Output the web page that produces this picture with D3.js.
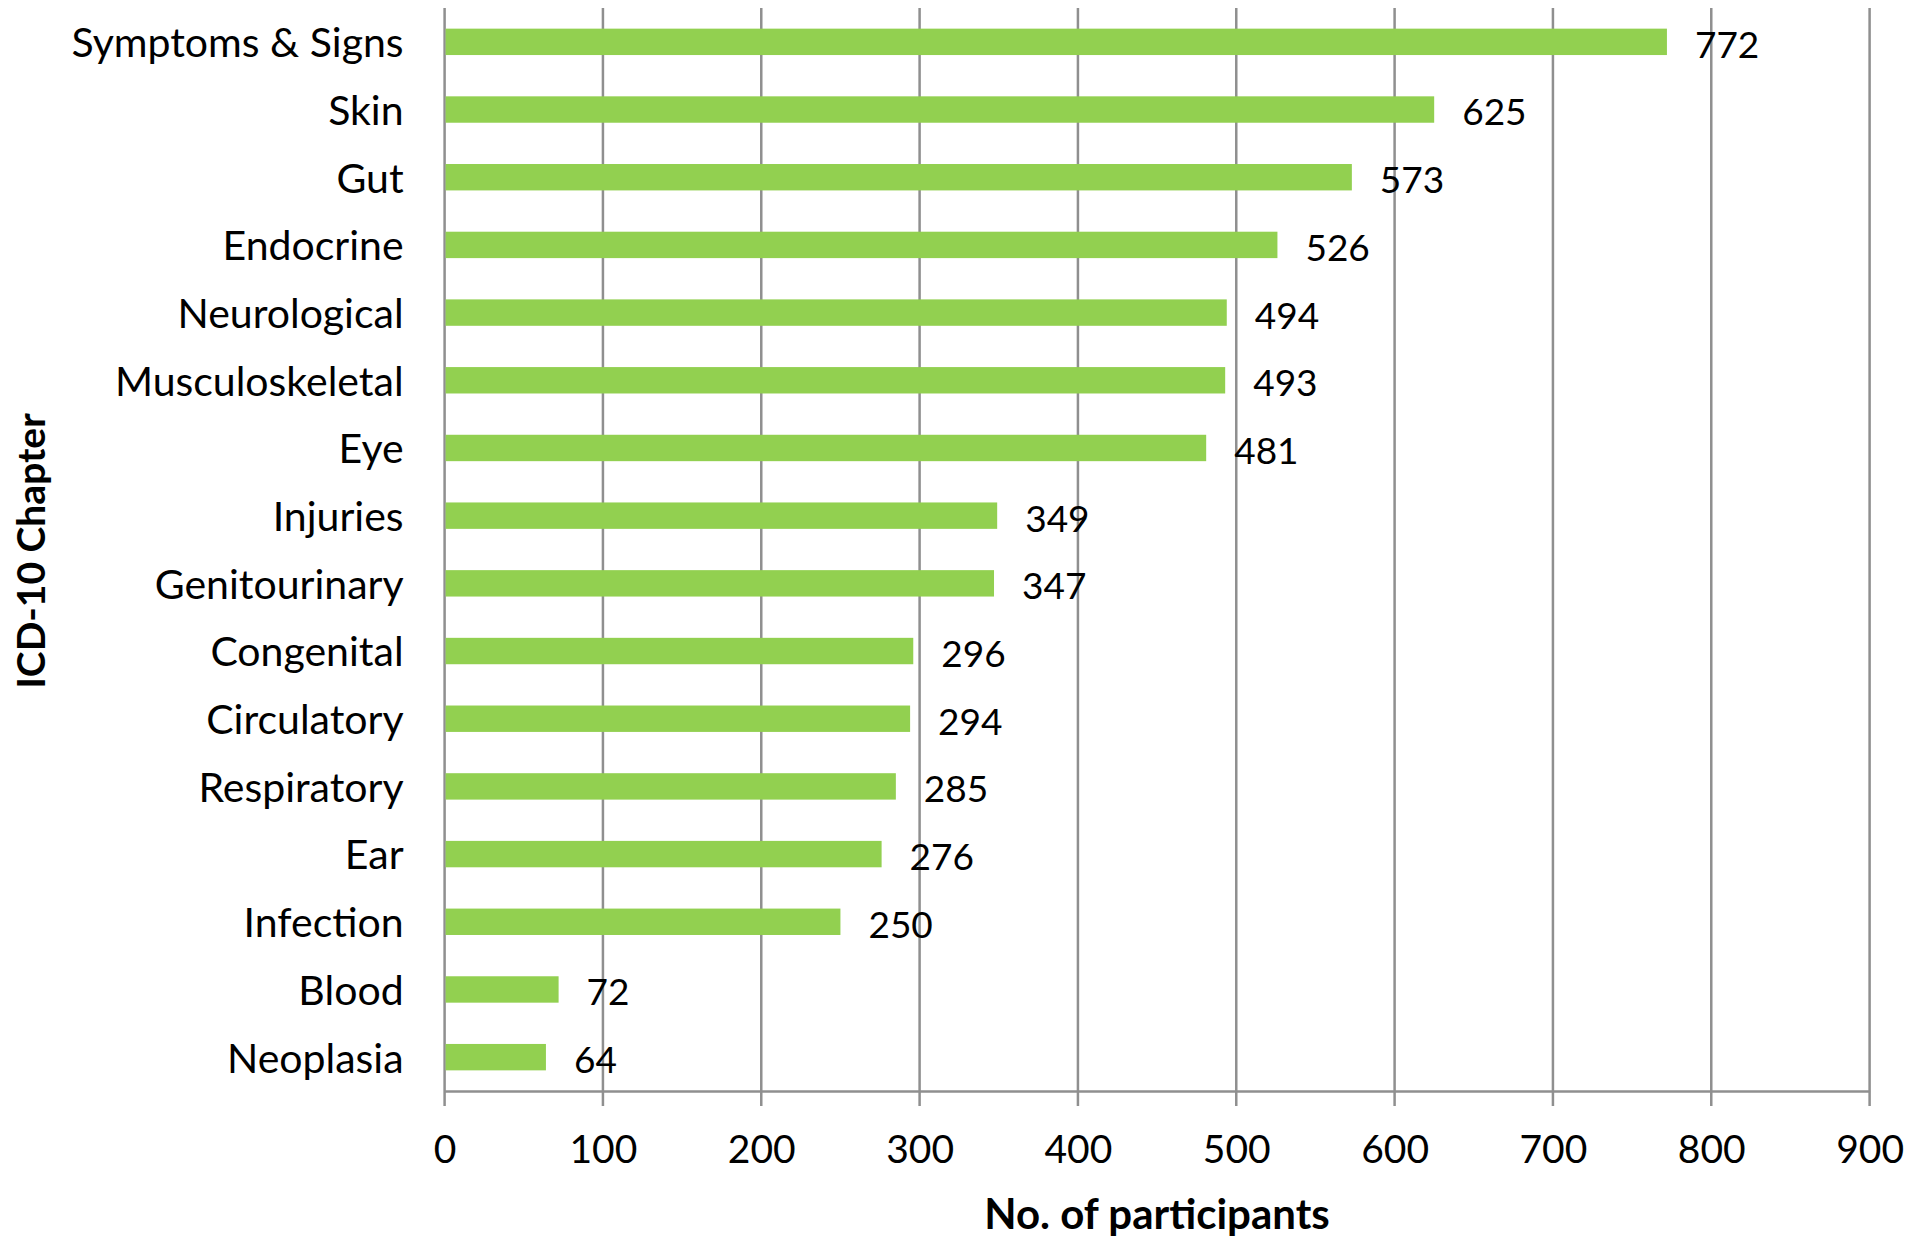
<!DOCTYPE html>
<html><head><meta charset="utf-8">
<script src="https://cdn.jsdelivr.net/npm/d3@7"></script>
<style>body{margin:0;background:#fff}svg{display:block}</style>
</head><body>
<svg id="c" width="1926" height="1238"></svg>
<script>
const categories = ["Symptoms & Signs","Skin","Gut","Endocrine","Neurological","Musculoskeletal","Eye","Injuries","Genitourinary","Congenital","Circulatory","Respiratory","Ear","Infection","Blood","Neoplasia"];
const values = [772,625,573,526,494,493,481,349,347,296,294,285,276,250,72,64];
const xTicks = [0,100,200,300,400,500,600,700,800,900];
const xTitle = "No. of participants";
const yTitle = "ICD-10 Chapter";

const font = "Lato, 'Open Sans', sans-serif";
const svg = d3.select("#c");
const m = {left:444.6, right:1869.6, top:8, bottom:1091};
const x = d3.scaleLinear().domain([0,900]).range([m.left,m.right]);
const y = d3.scaleBand().domain(categories).range([m.top,m.bottom]).paddingInner(0.61).paddingOuter(0.305);
const grid = "#8f8f8f";

// gridlines
svg.append("g").selectAll("line").data(xTicks).join("line")
  .attr("x1",d=>x(d)).attr("x2",d=>x(d)).attr("y1",m.top).attr("y2",m.bottom+15)
  .attr("stroke",grid).attr("stroke-width",2.5);

// bars
svg.append("g").selectAll("rect").data(values).join("rect")
  .attr("x",x(0)+1).attr("y",(d,i)=>y(categories[i]))
  .attr("width",d=>x(d)-x(0)-1).attr("height",y.bandwidth())
  .attr("fill","#92d050");

// bottom axis
const xa = d3.axisBottom(x).tickValues(xTicks).tickSize(0).tickPadding(0);
const gx = svg.append("g").attr("transform",`translate(0,${m.bottom})`).call(xa);
gx.select(".domain").attr("stroke",grid).attr("stroke-width",2.5);
gx.selectAll("text").attr("font-family",font).attr("font-size",39).attr("fill","#000")
  .attr("dy",null).attr("y",72);

// left axis labels
const ya = d3.axisLeft(y).tickSize(0).tickPadding(41);
const gy = svg.append("g").attr("transform",`translate(${m.left},0)`).call(ya);
gy.select(".domain").remove();
gy.selectAll("text").attr("font-family",font).attr("font-size",41).attr("fill","#000")
  .attr("dy",null).attr("y",5).attr("dominant-baseline","middle");

// value labels
svg.append("g").selectAll("text").data(values).join("text")
  .attr("x",d=>x(d)+28).attr("y",(d,i)=>y(categories[i])+y.bandwidth()/2+3)
  .attr("dy","0.35em").attr("font-family",font).attr("font-size",37).attr("fill","#000")
  .text(d=>d);

// axis titles
svg.append("text").attr("x",1157).attr("y",1229).attr("text-anchor","middle")
  .attr("font-family",font).attr("font-weight","bold").attr("font-size",42).text(xTitle);
svg.append("text").attr("transform","translate(45,551) rotate(-90)").attr("text-anchor","middle")
  .attr("font-family",font).attr("font-weight","bold").attr("font-size",39).text(yTitle);
</script>
</body></html>
